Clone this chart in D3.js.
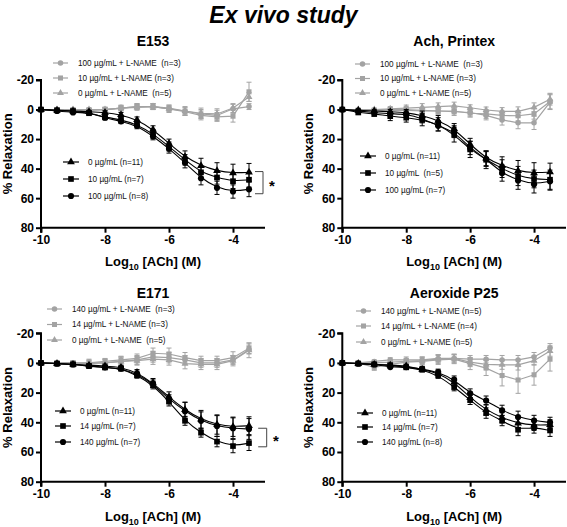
<!DOCTYPE html>
<html><head><meta charset="utf-8">
<script src="https://cdn.jsdelivr.net/npm/d3@7"></script>
<style>
body{margin:0;background:#fff}
svg{display:block}
text{font-family:Arial,"Liberation Sans",Helvetica,sans-serif;white-space:pre}
</style>
</head><body>
<svg id="chart" width="567" height="527"></svg>
<script>
// ---------------- DATA ----------------
const logACh = [-10,-9.5,-9,-8.5,-8,-7.5,-7,-6.5,-6,-5.5,-5,-4.5,-4,-3.5];
const xTicks = [-10,-8,-6,-4];
const yTicks = [-20,0,20,40,60,80];
const mainTitle = "Ex vivo study";
const panelTitles = ["E153","Ach, Printex","E171","Aeroxide P25"];

// E153
const e153L_100 = [0,0,0,0,0,-1,-2,-2,-1,1,3,4,-0.5,-2];
const e153L_10  = [0,0.5,0.5,0.5,0,-1,-2,-2,-0.5,1.5,4,5,4.5,-12];
const e153L_0   = [0,0,0,0,0,-1,-1.5,-2,-0.5,1,2.5,3,-1,-8.5];
const e153_0    = [0,0.5,1,1.5,2,3.5,7,13.5,23,32,38,41.5,43,42.5];
const e153_10   = [0,0.5,1,2.5,5,7,10,16.5,25,34,42.5,46,48.5,47.5];
const e153_100  = [0,1,2,2,5.5,8,11,18,26.5,36,46.5,53,55.5,54];
const e153L_100Err = [0,1,1,1,1.5,1.5,2,2,2,2.5,3,3.5,3,2];
const e153L_10Err  = [0,1,1,1,1.5,1.5,2,2,2.5,2.5,3,3,4,6.5];
const e153L_0Err   = [0,1,1,1,1.5,2,2,2,2,3,3.5,3.5,3,3];
const e153_0Err    = [0,0.5,0.8,1,1.2,1.5,2,2.5,3,4,5,5.5,6,6];
const e153_10Err   = [0,0.5,0.8,1,1.5,2,2,3,3,3.5,4,4.5,5,5];
const e153_100Err  = [0,0.5,0.8,1,1.5,1.5,2,2.5,3,3.5,4.5,4.5,4.5,5];

// Ach, Printex
const prL_100 = [0,0.5,0.5,0.5,0.5,1,1,1.5,2,4,7,9,9,-5];
const prL_10  = [0,0.5,0.5,0,0,0.5,1,1,2.5,3,4,4.2,3,-5.5];
const prL_0   = [0,0,0,-0.5,-1,-1.5,-2,-2.5,-1.2,0.3,1.2,1.2,-1.5,-7];
const pr_0    = [0,0.5,1,1.5,2,4,7.5,13,23.5,33,38,41.5,43,42.3];
const pr_10   = [0,2,3,4.5,5.5,7,10,17,27,34,40,45,47,47.5];
const pr_100  = [0,1,2,3,3,6,11,15,26,33.5,43,48,50.5,48.6];
const prL_100Err = [0,1,1,1.5,2,2,2,2.5,3,3,3.5,4,4.5,5];
const prL_10Err  = [0,1,1,1.5,2,2,2,2,2.5,3,3,3.5,3.5,5];
const prL_0Err   = [0,1,1,1.5,2,2.5,2.5,2.5,2,2,2.5,3,3,4];
const pr_0Err    = [0,1,1,1.5,2,3,3.5,3.5,4,5,6,7,7,6];
const pr_10Err   = [0,1,1.5,3,3,4,4.5,5,5.5,6,6,6.5,6,6.5];
const pr_100Err  = [0,1,1,1.5,2,3,3.5,4,4.5,5,5.5,6,6,6];

// E171
const e171L_140 = [0,0,0,0.5,0,-1,-2,-4,-3.5,-2,0,0,-2,-9];
const e171L_14  = [0,0,0,0,-1,-2,-3,-6.5,-6,-3.5,-1.5,-1.5,-3.5,-9.8];
const e171L_0   = [0,0,0.5,0,0,-1,-1.5,-2.5,-2,0.5,1,1,-1.5,-8.5];
const e171_0    = [0,0.5,1,1.5,2,3,6.5,13.5,23,31.5,38,41.5,43,42.3];
const e171_14   = [0,0.5,1,2.2,3.1,3.8,8.3,15,26,39,47,53,56,54];
const e171_140  = [0,0.5,1,2,3,3.8,7.6,14,24.5,32.5,39,42.5,44,44.5];
const e171L_140Err = [0,1,1,2,2.5,3,3,3.5,3.5,3,3,3,3,3];
const e171L_14Err  = [0,1,1,2,2,2.5,3,3.5,4,3.5,3,3,4,3.5];
const e171L_0Err   = [0,1,2,2.5,2.5,3,3,3.5,3.5,3.5,3.5,3.5,3.5,5];
const e171_0Err    = [0,0.5,0.8,1,1.2,1.5,2,3,3.5,5,6,6.5,6.5,6];
const e171_14Err   = [0,0.5,0.8,1,1.2,1.5,2,2.5,3,3,3,3.5,4.5,5];
const e171_140Err  = [0,0.5,0.8,1,1.2,1.5,2,2.5,3,6,6,7,7,7];

// Aeroxide P25
const p25L_140 = [0,0,-1,-2,-2,-2,-3,-3,-2.5,-2.5,-2,-2,-4,-10];
const p25L_14  = [0,0,3,1,-0.5,-1,-2,-2.5,0.5,3.5,8.5,11.5,8,-2.5];
const p25L_0   = [0,0,0,-0.5,-1,-1.5,-2.5,-3,-0.5,1,1.3,1.3,-1.5,-8];
const p25_0    = [0,0.5,1,1.5,2,4.4,6.9,13,23.5,31.6,37,40.6,42,41.7];
const p25_14   = [0,0.5,1,1.5,3,4.5,8.4,16.3,25,33.8,38.8,45,43.3,45.5];
const p25_140  = [0,0.5,1,2.8,2.8,4,6.2,11.3,20.5,25.3,32,36.5,38.8,40.1];
const p25L_140Err = [0,1,1,1.5,2,2,2.5,2.5,2.5,2.5,3,3,3,3];
const p25L_14Err  = [0,1,2,2,2,2.5,3,3,4,5,7,9,7,8];
const p25L_0Err   = [0,1,1.5,2,2,2.5,3,3,3,3,3,3.5,3,3.5];
const p25_0Err    = [0,0.5,0.8,1,1,1.5,2,2.5,3,3.5,3.5,3.5,3.5,3.5];
const p25_14Err   = [0,0.5,0.8,1,1,1.5,2,2.5,3,3.5,3.5,4,4,4];
const p25_140Err  = [0,0.5,0.8,1,1,1.5,2,2.5,3,3,3.5,4,3.5,3.5];

const legendE153 = ["100 µg/mL + L-NAME  (n=3)","10 µg/mL + L-NAME (n=3)","0 µg/mL + L-NAME  (n=5)","0 µg/mL (n=11)","10 µg/mL (n=7)","100 µg/mL (n=8)"];
const legendPrintex = ["100 µg/mL + L-NAME  (n=3)","10 µg/mL + L-NAME (n=3)","0 µg/mL + L-NAME (n=5)","0 µg/mL (n=11)","10 µg/mL  (n=5)","100 µg/mL (n=7)"];
const legendE171 = ["140 µg/mL + L-NAME  (n=3)","14 µg/mL + L-NAME (n=3)","0 µg/mL + L-NAME  (n=5)","0 µg/mL (n=11)","14 µg/mL (n=7)","140 µg/mL (n=7)"];
const legendP25 = ["140 µg/mL + L-NAME (n=5)","14 µg/mL + L-NAME (n=4)","0 µg/mL + L-NAME (n=5)","0 µg/mL (n=11)","14 µg/mL (n=7)","140 µg/mL (n=8)"];

const yLabel = "% Relaxation";
const sigMark = "*";

// ---------------- LAYOUT ----------------
const GRAY = "#a3a3a3";
const panels = [
  {title:panelTitles[0], legend:legendE153,
   gray:[[e153L_100,e153L_100Err,"circle"],[e153L_10,e153L_10Err,"square"],[e153L_0,e153L_0Err,"triangle"]],
   black:[[e153_0,e153_0Err,"triangle"],[e153_10,e153_10Err,"square"],[e153_100,e153_100Err,"circle"]],
   xr:[41,265], yr:[80,227.7], titleY:46, xlabY:266,
   gl:{x:53, y:[63,78,93]}, bl:{x:63, y:[162,179,196]}, sig:{dx:14, tick:8, star:23, v:[42,57]}},
  {title:panelTitles[1], legend:legendPrintex,
   gray:[[prL_100,prL_100Err,"circle"],[prL_10,prL_10Err,"square"],[prL_0,prL_0Err,"triangle"]],
   black:[[pr_0,pr_0Err,"triangle"],[pr_10,pr_10Err,"square"],[pr_100,pr_100Err,"circle"]],
   xr:[342.3,566], yr:[80,227.7], titleY:46, xlabY:266,
   gl:{x:355, y:[64,78.5,93]}, bl:{x:360, y:[156,173,190]}},
  {title:panelTitles[2], legend:legendE171,
   gray:[[e171L_140,e171L_140Err,"circle"],[e171L_14,e171L_14Err,"square"],[e171L_0,e171L_0Err,"triangle"]],
   black:[[e171_0,e171_0Err,"triangle"],[e171_14,e171_14Err,"square"],[e171_140,e171_140Err,"circle"]],
   xr:[41,265], yr:[333.2,481.7], titleY:298, xlabY:521,
   gl:{x:47, y:[309,324.5,340]}, bl:{x:55, y:[411,426,442]}, sig:{dx:17.7, tick:8.5, star:27, v:[44,56.5]}},
  {title:panelTitles[3], legend:legendP25,
   gray:[[p25L_140,p25L_140Err,"circle"],[p25L_14,p25L_14Err,"square"],[p25L_0,p25L_0Err,"triangle"]],
   black:[[p25_0,p25_0Err,"triangle"],[p25_14,p25_14Err,"square"],[p25_140,p25_140Err,"circle"]],
   xr:[342.3,566], yr:[333.2,481.7], titleY:298, xlabY:521,
   gl:{x:356, y:[311,326,342]}, bl:{x:357, y:[413,427,442]}}
];

const svg = d3.select("#chart");
svg.append("rect").attr("width",567).attr("height",527).attr("fill","#fff");

svg.append("text").attr("x",283.5).attr("y",23).attr("text-anchor","middle")
  .attr("font-size",23).attr("font-weight","bold").attr("font-style","italic")
  .text(mainTitle);

const symType = {circle:d3.symbolCircle, square:d3.symbolSquare, triangle:d3.symbolTriangle};
const symSize = {circle:30, square:32, triangle:26};

function drawSeries(g, x, y, vals, errs, shape, color, smooth, sizeScale){
  const pts = logACh.map((d,i)=>({x:d, v:vals[i], e:errs[i]}));
  // error bars
  const eb = g.append("g").attr("stroke",color).attr("stroke-width",1).attr("fill","none");
  pts.forEach(p=>{
    if(p.e<=0) return;
    const cx = x(p.x), y1 = y(p.v-p.e), y2 = y(p.v+p.e);
    eb.append("line").attr("x1",cx).attr("x2",cx).attr("y1",y1).attr("y2",y2);
    eb.append("line").attr("x1",cx-2.5).attr("x2",cx+2.5).attr("y1",y1).attr("y2",y1);
    eb.append("line").attr("x1",cx-2.5).attr("x2",cx+2.5).attr("y1",y2).attr("y2",y2);
  });
  const line = d3.line().x(p=>x(p.x)).y(p=>y(p.v)).curve(smooth?d3.curveBasis:d3.curveLinear);
  g.append("path").attr("d",line(pts)).attr("fill","none").attr("stroke",color).attr("stroke-width",smooth?1.1:1.2);
  g.append("g").selectAll("path").data(pts).join("path")
    .attr("transform",p=>`translate(${x(p.x)},${y(p.v)})`)
    .attr("d",d3.symbol().type(symType[shape]).size(symSize[shape]*sizeScale))
    .attr("fill",color);
}

panels.forEach(P=>{
  const g = svg.append("g");
  const x = d3.scaleLinear().domain([-10,-3]).range(P.xr);
  const y = d3.scaleLinear().domain([-20,80]).range(P.yr);
  const cx = (P.xr[0]+P.xr[1])/2;

  // title
  g.append("text").attr("x",cx).attr("y",P.titleY).attr("text-anchor","middle")
    .attr("font-size",14).attr("font-weight","bold").text(P.title);

  // axes
  const yAxis = d3.axisLeft(y).tickValues(yTicks).tickSize(5).tickPadding(2).tickFormat(d=>String(d));
  const xAxis = d3.axisBottom(x).tickValues(xTicks).tickSize(5).tickPadding(3).tickFormat(d=>String(d));
  const ya = g.append("g").attr("transform",`translate(${P.xr[0]},0)`).call(yAxis);
  const xa = g.append("g").attr("transform",`translate(0,${P.yr[1]})`).call(xAxis);
  [ya,xa].forEach(a=>{
    a.select(".domain").attr("stroke","#000").attr("stroke-width",2);
    a.selectAll(".tick line").attr("stroke","#000").attr("stroke-width",2);
    a.selectAll(".tick text").attr("fill","#000").attr("font-size",12).attr("font-weight","bold")
      .attr("font-family",'Arial,"Liberation Sans",sans-serif');
  });
  ya.select(".domain").attr("d",`M-5,${P.yr[0]}H0V${P.yr[1]}`);
  xa.select(".domain").attr("d",`M${P.xr[0]},5V0H${P.xr[1]}`);

  // y label
  g.append("text").attr("transform",`translate(${P.xr[0]-33.5},${(P.yr[0]+P.yr[1])/2}) rotate(-90)`)
    .attr("text-anchor","middle").attr("dy","0.36em").attr("font-size",13).attr("font-weight","bold").text(yLabel);
  // x label
  const xl = g.append("text").attr("x",cx).attr("y",P.xlabY).attr("text-anchor","middle")
    .attr("font-size",13).attr("font-weight","bold");
  xl.append("tspan").text("Log");
  xl.append("tspan").attr("font-size",9).attr("dy",3.5).text("10");
  xl.append("tspan").attr("dy",-3.5).text(" [ACh] (M)");

  // series
  P.gray.forEach(s=>drawSeries(g,x,y,s[0],s[1],s[2],GRAY,false,0.8));
  P.black.forEach(s=>drawSeries(g,x,y,s[0],s[1],s[2],"#000",true,1));

  // legends
  const leg = (lx, ly, shape, color, label, lw, sc, tx) => {
    g.append("line").attr("x1",lx).attr("x2",lx+lw).attr("y1",ly).attr("y2",ly).attr("stroke",color).attr("stroke-width",1.2);
    g.append("path").attr("transform",`translate(${lx+lw/2},${ly})`)
      .attr("d",d3.symbol().type(symType[shape]).size(symSize[shape]*sc)).attr("fill",color);
    g.append("text").attr("x",lx+lw+tx).attr("y",ly).attr("dy","0.35em").attr("font-size",8.2).attr("fill","#111").text(label);
  };
  P.gray.forEach((s,i)=>leg(P.gl.x, P.gl.y[i], s[2], GRAY, P.legend[i], 15, 0.8, 10));
  P.black.forEach((s,i)=>leg(P.bl.x, P.bl.y[i], s[2], "#000", P.legend[i+3], 16, 1, 9));

  // significance bracket
  if(P.sig){
    const bx = x(-3.5)+P.sig.dx, ya1 = y(P.sig.v[0]), ya2 = y(P.sig.v[1]);
    g.append("path").attr("d",`M${bx-P.sig.tick},${ya1}H${bx}V${ya2}H${bx-P.sig.tick}`)
      .attr("fill","none").attr("stroke","#444").attr("stroke-width",1);
    g.append("text").attr("x",x(-3.5)+P.sig.star).attr("y",(ya1+ya2)/2+8).attr("text-anchor","middle")
      .attr("font-size",15).attr("font-weight","bold").text(sigMark);
  }
});
</script>
</body></html>
